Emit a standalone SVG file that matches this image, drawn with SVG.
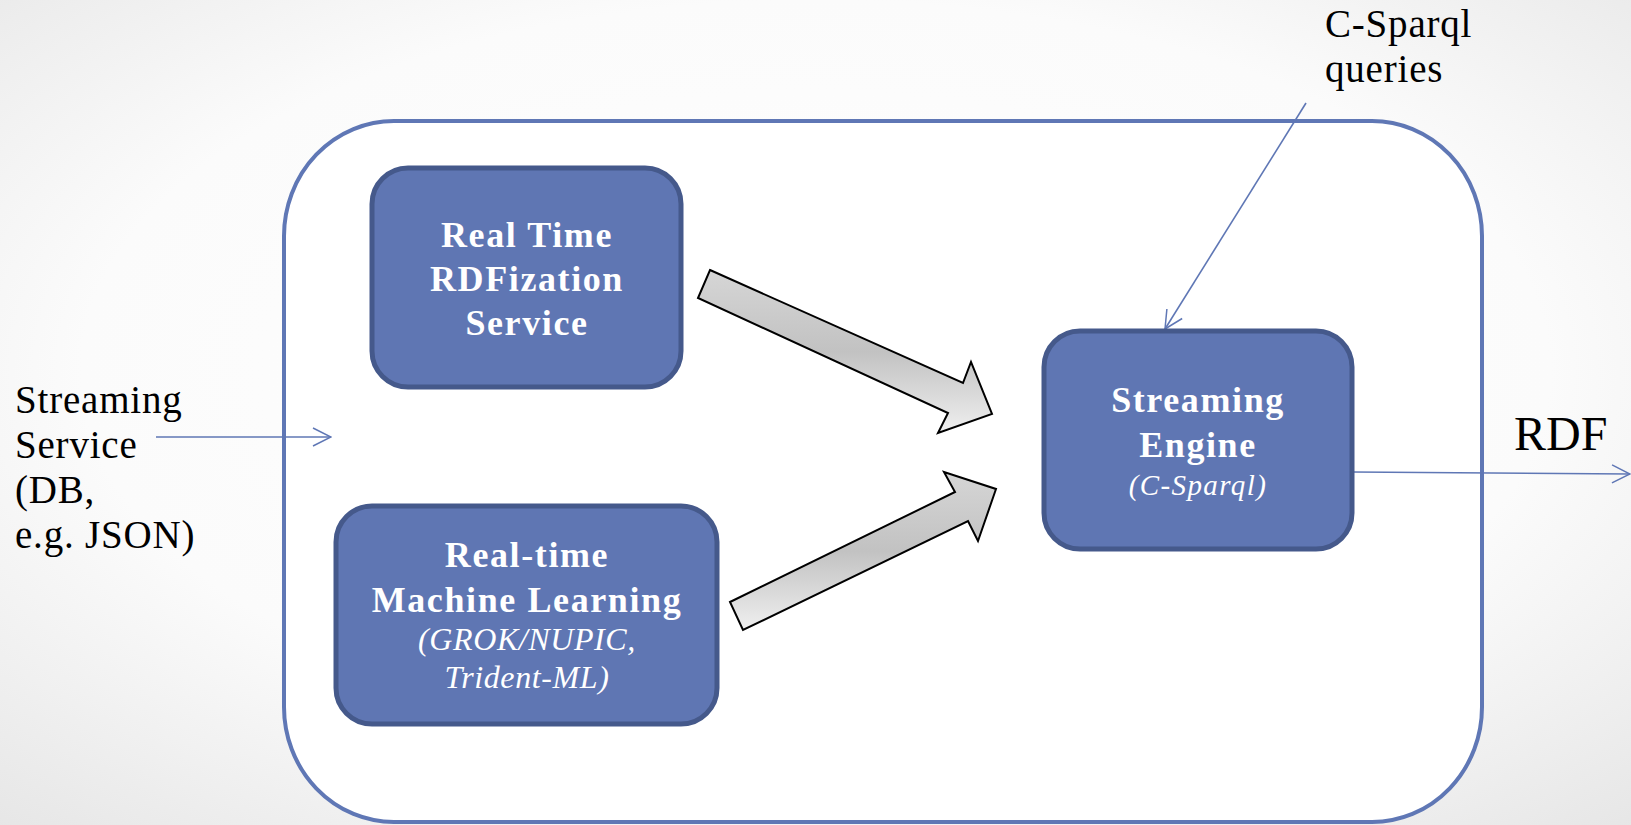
<svg xmlns="http://www.w3.org/2000/svg" width="1631" height="825" viewBox="0 0 1631 825">
  <defs>
    <radialGradient id="bg" cx="0.5" cy="0.45" r="0.75">
      <stop offset="0" stop-color="#ffffff"/>
      <stop offset="0.6" stop-color="#fbfbfb"/>
      <stop offset="1" stop-color="#e6e6e6"/>
    </radialGradient>
    <linearGradient id="fat" x1="0" y1="0" x2="0" y2="1">
      <stop offset="0" stop-color="#d6d6d6"/>
      <stop offset="0.5" stop-color="#c2c2c2"/>
      <stop offset="1" stop-color="#efefef"/>
    </linearGradient>
    <marker id="open" viewBox="0 0 20 20" refX="19" refY="10" markerWidth="20" markerHeight="20" markerUnits="userSpaceOnUse" orient="auto">
      <path d="M1,1 L19,10 L1,19" fill="none" stroke="#5f77b5" stroke-width="1.5"/>
    </marker>
    <style>
      .node rect { fill: #5f76b3; stroke: #45598b; stroke-width: 5; }
      .title { font-family: "Liberation Serif", "DejaVu Serif", serif; font-weight: bold; font-size: 36px; fill: #ffffff; text-anchor: middle; letter-spacing: 1.6px; }
      .sub { font-family: "Liberation Serif", "DejaVu Serif", serif; font-style: italic; font-size: 32px; fill: #ffffff; text-anchor: middle; letter-spacing: 0.6px; }
      .label { font-family: "Liberation Serif", "DejaVu Serif", serif; font-size: 39px; fill: #000000; letter-spacing: 0.8px; }
      .wire { fill: none; stroke: #5f77b5; stroke-width: 1.6; }
      .fat { fill: url(#fat); stroke: #000000; stroke-width: 2; stroke-linejoin: miter; }
    </style>
  </defs>

  <!-- background -->
  <rect x="0" y="0" width="1631" height="825" fill="url(#bg)"/>

  <!-- outer system boundary -->
  <g id="system">
    <rect x="284" y="121" width="1198" height="701" rx="110" ry="115" fill="#ffffff" stroke="#5f77b5" stroke-width="4"/>
  </g>

  <!-- connectors -->
  <g id="connectors">
    <line class="wire" x1="156" y1="437" x2="331" y2="437" marker-end="url(#open)"/>
    <line class="wire" x1="1306" y1="103" x2="1165" y2="329" marker-end="url(#open)"/>
    <line class="wire" x1="1353" y1="472" x2="1630" y2="474" marker-end="url(#open)"/>
    <polygon class="fat" points="710,270 963,383 971,362 992,414 938,433 948,413 698,298"/>
    <polygon class="fat" points="730,602 955,492 944,472 996,489 978,541 968,521 743,630"/>
  </g>

  <g id="rdfization" class="node">
    <rect x="372" y="168" width="309" height="219" rx="36" ry="36"/>
    <text class="title" x="527" y="247">Real Time</text>
    <text class="title" x="527" y="291">RDFization</text>
    <text class="title" x="527" y="335">Service</text>
  </g>

  <g id="ml" class="node">
    <rect x="336" y="506" width="381" height="218" rx="36" ry="36"/>
    <text class="title" x="527" y="567">Real-time</text>
    <text class="title" x="527" y="612">Machine Learning</text>
    <text class="sub" x="527" y="650">(GROK/NUPIC,</text>
    <text class="sub" x="527" y="688">Trident-ML)</text>
  </g>

  <g id="engine" class="node">
    <rect x="1044" y="331" width="308" height="218" rx="36" ry="36"/>
    <text class="title" x="1198" y="412">Streaming</text>
    <text class="title" x="1198" y="457">Engine</text>
    <text class="sub" x="1198" y="495" style="font-size:29px;letter-spacing:1.4px">(C-Sparql)</text>
  </g>

  <g id="source">
    <text class="label" x="15" y="413">Streaming</text>
    <text class="label" x="15" y="458">Service</text>
    <text class="label" x="15" y="503">(DB,</text>
    <text class="label" x="15" y="548">e.g. JSON)</text>
  </g>

  <g id="queries">
    <text class="label" x="1325" y="37">C-Sparql</text>
    <text class="label" x="1325" y="82">queries</text>
  </g>

  <g id="output">
    <text class="label" x="1514" y="450" style="font-size:48px;letter-spacing:0">RDF</text>
  </g>
</svg>
